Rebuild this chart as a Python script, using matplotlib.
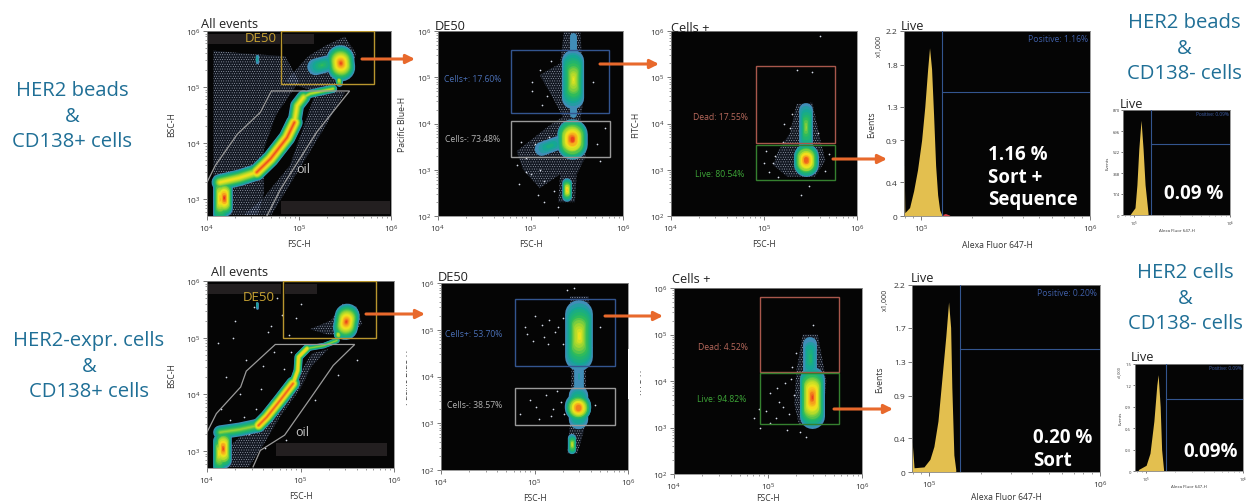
# Flow cytometry sort gates for HER2 beads and HER2-expressing cells.
# Density clouds are drawn as stacked ridges (log10 units).

import matplotlib
matplotlib.use("Agg")
import matplotlib.pyplot as plt
from matplotlib.colors import LinearSegmentedColormap
from matplotlib.patches import Polygon, Rectangle

plt.rcParams['font.family'] = ['Open Sans', 'DejaVu Sans']
plt.rcParams['mathtext.default'] = 'regular'
plt.rcParams['hatch.linewidth'] = 0.3

BLUE_TEXT = '#1f6f96'
ORANGE = '#e8692c'
GOLD = '#b8962e'
GATE_BLUE = '#33558f'
GATE_GRAY = '#9a9a9a'
GATE_RED = '#a8574c'
GATE_GREEN = '#35802f'
HIST = '#e3bf4f'

# density features: (x decades, y decades, width in points, peak level 0-1)
beads_all = [
    ([4.14, 4.14], [2.72, 3.3], 10, 0.75),
    ([4.18, 4.18], [2.85, 3.2], 12, 1.0),
    ([4.14, 4.35, 4.54], [3.3, 3.38, 3.48], 12, 0.62),
    ([4.54, 4.69, 4.87, 4.95], [3.48, 3.72, 4.1, 4.37], 12, 0.92),
    ([4.95, 4.98, 5.05], [4.37, 4.67, 4.82], 10, 0.62),
    ([5.05, 5.12, 5.37], [4.82, 4.88, 4.97], 6, 0.5),
    ([5.43, 5.43], [5.08, 5.14], 5, 0.62),
    ([5.18, 5.32], [5.36, 5.42], 12, 0.28),
    ([5.46, 5.45], [5.35, 5.5], 20, 0.95),
    ([4.54, 4.54], [5.44, 5.56], 2.5, 0.15),
]
beads_de50 = [
    ([5.46, 5.46], [5.9, 4.2], 5, 0.08),
    ([5.46, 5.46], [4.56, 5.35], 16, 0.58),
    ([5.45, 5.45], [3.55, 3.78], 22, 1.0),
    ([5.12, 5.3], [3.45, 3.58], 10, 0.2),
    ([5.39, 5.39], [2.42, 2.72], 7, 0.72),
]
beads_cells = [
    ([5.45, 5.45], [3.55, 4.3], 10, 0.42),
    ([5.45, 5.45], [3.12, 3.3], 18, 1.0),
]
cells_all = [
    ([4.13, 4.13], [2.72, 3.2], 9, 0.65),
    ([4.17, 4.17], [2.84, 3.25], 12, 0.95),
    ([4.14, 4.35, 4.55], [3.33, 3.38, 3.45], 10, 0.42),
    ([4.55, 4.64, 4.78, 4.92], [3.45, 3.6, 3.89, 4.19], 10, 0.9),
    ([4.92, 4.97, 4.98, 5.07], [4.19, 4.42, 4.66, 4.81], 6, 0.7),
    ([5.07, 5.25, 5.39], [4.81, 4.86, 4.95], 4, 0.42),
    ([5.4, 5.4], [5.04, 5.08], 6, 0.6),
    ([5.48, 5.5], [5.18, 5.38], 18, 0.95),
    ([4.54, 4.54], [5.52, 5.62], 2, 0.15),
]
cells_de50 = [
    ([5.48, 5.48], [3.7, 4.3], 7, 0.06),
    ([5.48, 5.48], [4.42, 5.33], 20, 0.62),
    ([5.47, 5.47], [3.1, 3.6], 14, 0.4),
    ([5.47, 5.47], [3.32, 3.36], 19, 1.0),
    ([5.4, 5.4], [2.42, 2.68], 6, 0.55),
]
cells_cells = [
    ([5.45, 5.45], [4.2, 4.8], 10, 0.25),
    ([5.47, 5.47], [3.25, 4.05], 18, 0.95),
]

# speckle regions: polygon vertices in decades
beads_all_haze = [
    [(4.07, 2.9), (4.07, 5.65), (4.4, 5.6), (4.85, 5.55), (5.0, 5.1), (4.75, 4.5),
     (4.62, 3.9), (4.62, 3.1), (4.55, 2.72), (4.2, 2.72)],
    [(4.85, 5.1), (5.1, 5.55), (5.3, 5.75), (5.5, 5.9), (5.62, 5.6), (5.55, 5.15), (5.2, 4.9)],
    [(4.9, 3.6), (4.6, 3.0), (4.4, 2.72), (4.7, 2.72), (5.25, 4.2), (5.5, 4.9), (5.2, 5.0)],
]
beads_de50_haze = [
    [(5.36, 5.98), (5.54, 5.98), (5.58, 4.6), (5.54, 4.1), (5.6, 3.3), (5.5, 2.9), (5.48, 2.3),
     (5.3, 2.3), (5.32, 2.9), (5.1, 2.6), (4.92, 3.0), (4.85, 3.4), (5.2, 3.95), (5.35, 4.15),
     (5.2, 4.7), (5.1, 5.05), (5.32, 5.3)],
]
beads_cells_haze = [
    [(5.35, 4.42), (5.52, 4.45), (5.6, 3.7), (5.66, 3.2), (5.55, 2.85), (5.25, 2.85), (5.1, 3.1),
     (5.15, 3.4), (5.28, 3.8)],
]
cells_all_haze = [
    [(4.45, 2.72), (4.6, 3.1), (4.78, 3.6), (5.0, 4.1), (5.12, 4.5), (5.3, 4.8), (5.12, 4.72),
     (5.0, 4.4), (4.85, 4.0), (4.6, 3.6), (4.25, 3.1), (4.2, 2.72)],
    [(5.1, 5.15), (5.32, 5.3), (5.45, 5.6), (5.6, 5.55), (5.66, 5.25), (5.55, 5.05), (5.3, 5.05)],
]
cells_de50_haze = [
    [(5.38, 5.72), (5.58, 5.72), (5.62, 4.6), (5.55, 4.2), (5.55, 3.0), (5.46, 2.35),
     (5.35, 2.35), (5.38, 3.0), (5.4, 4.4)],
]
cells_cells_haze = [
    [(5.37, 5.0), (5.53, 5.0), (5.62, 4.0), (5.58, 3.05), (5.33, 3.05), (5.28, 3.5), (5.3, 4.2)],
]

beads_de50_dots_x = [4.85, 4.9, 4.95, 5.0, 5.05, 5.1, 5.15, 5.2, 5.25, 4.88, 4.95, 5.02, 5.1, 5.18, 5.72, 5.75, 5.68, 5.8, 5.02, 5.12, 5.22, 5.08, 5.15, 5.3]
beads_de50_dots_y = [3.1, 3.6, 3.25, 2.9, 3.55, 3.0, 2.75, 3.7, 2.55, 2.7, 2.95, 4.9, 5.15, 4.6, 3.55, 3.2, 4.9, 3.9, 4.7, 4.4, 5.35, 2.45, 2.3, 2.2]
beads_cells_dots_x = [5.0, 5.05, 5.12, 5.2, 5.28, 5.3, 5.35, 5.52, 5.58, 5.66, 5.7, 5.02, 5.1, 5.15, 5.4, 5.48, 5.22, 5.6]
beads_cells_dots_y = [3.15, 2.95, 3.3, 3.6, 3.9, 4.2, 5.15, 5.12, 3.8, 2.98, 3.35, 3.4, 3.15, 2.85, 2.45, 2.65, 4.0, 5.9]
cells_all_dots_x = [4.15, 4.2, 4.3, 4.42, 4.5, 4.58, 4.65, 4.72, 4.8, 4.88, 4.25, 4.35, 4.6, 4.7, 4.82, 4.95, 4.12, 4.4, 4.52, 4.75, 4.9, 5.0, 4.28, 4.68, 4.45, 4.62, 4.85, 5.15, 5.4, 5.6]
cells_all_dots_y = [3.75, 4.3, 5.3, 4.6, 5.55, 4.1, 5.1, 4.75, 5.4, 5.05, 3.55, 4.0, 4.5, 3.9, 4.45, 5.35, 4.9, 3.6, 3.75, 5.7, 4.75, 5.6, 5.0, 5.2, 3.3, 3.05, 3.2, 3.9, 4.35, 4.6]
cells_de50_dots_x = [4.85, 4.9, 4.95, 5.0, 5.05, 5.1, 5.15, 5.2, 5.25, 5.3, 4.92, 5.02, 5.12, 5.22, 5.3, 5.08, 5.18, 5.28, 4.98, 5.14, 5.24, 5.32, 5.65, 5.7, 5.35, 5.42]
cells_de50_dots_y = [3.2, 5.05, 3.5, 5.3, 3.1, 4.85, 5.2, 3.3, 5.05, 4.7, 4.9, 3.35, 3.6, 4.95, 5.25, 5.1, 3.15, 3.45, 4.75, 4.7, 3.7, 3.2, 3.4, 5.05, 5.85, 5.9]
cells_cells_dots_x = [4.85, 4.9, 4.98, 5.02, 5.08, 5.12, 5.18, 5.22, 5.28, 5.02, 5.1, 5.16, 5.24, 4.92, 5.3, 5.26, 5.34, 5.2, 5.4, 5.48]
cells_cells_dots_y = [3.2, 3.4, 3.35, 3.75, 3.2, 3.55, 3.95, 3.3, 3.7, 3.1, 3.85, 3.45, 4.05, 3.0, 4.6, 4.3, 2.9, 2.95, 2.8, 5.2]

# gates: (x low, x high, y low, y high) in decades
beads_de50_gates = [(4.79, 5.85, 4.22, 5.6, GATE_BLUE), (4.79, 5.86, 3.28, 4.05, GATE_GRAY)]
beads_cells_gates = [(4.91, 5.76, 3.58, 5.24, GATE_RED), (4.91, 5.76, 2.78, 3.53, GATE_GREEN)]
cells_de50_gates = [(4.79, 5.86, 4.22, 5.65, GATE_BLUE), (4.79, 5.86, 2.97, 3.76, GATE_GRAY)]
cells_cells_gates = [(4.91, 5.76, 4.19, 5.81, GATE_RED), (4.91, 5.76, 3.08, 4.17, GATE_GREEN)]
beads_all_gates = [(4.80, 5.82, 5.05, 6.0, GOLD)]
cells_all_gates = [(4.81, 5.81, 5.0, 6.0, GOLD)]
beads_oil = [(4.0, 3.3), (4.09, 3.6), (4.33, 4.16), (4.58, 4.55), (4.7, 4.93), (5.55, 4.93),
             (5.19, 4.19), (4.8, 3.18), (4.65, 2.7)]
cells_oil = [(4.0, 3.33), (4.1, 3.66), (4.36, 4.13), (4.42, 4.41), (4.73, 4.88), (5.58, 4.88),
             (5.35, 4.51), (5.14, 4.01), (4.83, 3.28), (4.57, 3.01), (4.49, 2.71)]

# histograms: x in decades, y in events (x1,000 or plain)
hist1_x = [4.9, 4.901, 4.905, 4.933, 4.957, 4.98, 5.004, 5.023, 5.04, 5.051, 5.063, 5.075, 5.087, 5.099, 5.111, 5.122]
hist1_y = [0.6, 0.6, 0.04, 0.1, 0.3, 0.55, 0.9, 1.3, 1.75, 2.0, 1.75, 1.2, 0.6, 0.25, 0.07, 0.02]
hist1_red_x = [5.13, 5.145, 5.17]
hist1_red_y = [0.02, 0.03, 0.01]
hist2_x = [4.96, 5.01, 5.03, 5.05, 5.073, 5.094, 5.115, 5.146]
hist2_y = [5, 60, 250, 550, 785, 550, 250, 15]
hist3_x = [4.9, 4.901, 4.912, 4.97, 5.005, 5.028, 5.052, 5.075, 5.098, 5.114, 5.126, 5.133, 5.145, 5.156]
hist3_y = [0.35, 0.35, 0.05, 0.06, 0.15, 0.3, 0.6, 1.1, 1.6, 2.0, 1.7, 1.0, 0.2, 0.03]
hist4_x = [4.92, 5.0, 5.04, 5.08, 5.11, 5.124, 5.145, 5.16, 5.18]
hist4_y = [0.02, 0.08, 0.25, 0.7, 1.2, 1.35, 0.9, 0.3, 0.02]

hist1_ticks = [0, 0.4, 0.9, 1.3, 1.8, 2.2]
hist2_ticks = [0, 174, 348, 522, 696, 870]
hist3_ticks = [0, 0.4, 0.9, 1.3, 1.7, 2.2]
hist4_ticks = [0, 0.3, 0.6, 0.9, 1.2, 1.5]

W, H = 1254, 502
density = LinearSegmentedColormap.from_list(
    'flow', ['#4f86c0', '#14a59a', '#25b860', '#9fd630', '#f5e71c', '#f59a1c', '#e8231c'])

fig = plt.figure(figsize=(W / 100, H / 100), dpi=100, facecolor='white')


def make_axes(left, right, top, bottom):
    ax = fig.add_axes([left / W, 1 - bottom / H, (right - left) / W, (bottom - top) / H])
    ax.set_facecolor('#050505')
    for s in ax.spines.values():
        s.set_color('#8a8a8a')
        s.set_linewidth(0.6)
    ax.set_xscale('log')
    return ax


def style_ticks(ax, size=6):
    ax.tick_params(which='major', labelsize=size, length=3, width=0.5, color='#444444',
                   labelcolor='#333333', pad=1.5)
    ax.tick_params(which='minor', length=1.5, width=0.4, color='#555555', labelleft=False, labelbottom=False)


def draw_features(ax, features):
    steps = 20
    for k in range(steps):
        t = k / steps
        for xs, ys, width, peak in features:
            if t >= peak:
                continue
            f = 1 - t / peak
            px, py = xs, ys
            if len(xs) == 2:
                cx, cy = sum(xs) / 2, sum(ys) / 2
                px = [cx + (v - cx) * f for v in xs]
                py = [cy + (v - cy) * f for v in ys]
            # the colour runs from teal outward edge to the peak colour, skipping most of the blue
            ax.plot([10 ** v for v in px], [10 ** v for v in py], color=density(t ** 0.85 + 0.04),
                    lw=width * f, solid_capstyle='round', solid_joinstyle='round', zorder=3)


def density_panel(box, ymin, ylabel, haze, features, gates, poly=None, dots=None, xpad=4):
    ax = make_axes(*box)
    ax.set_yscale('log')
    ax.set_xlim(1e4, 1e6)
    ax.set_ylim(10 ** ymin, 1e6)
    for verts in haze:
        pts = [(10 ** x, 10 ** y) for x, y in verts]
        ax.add_patch(Polygon(pts, closed=True, facecolor=(0.30, 0.40, 0.60, 0.2),
                             edgecolor=(0.85, 0.88, 0.95, 0.75), hatch='.......', lw=0, zorder=1))
    if dots:
        ax.scatter([10 ** v for v in dots[0]], [10 ** v for v in dots[1]], s=1.5, color='#d8deea', lw=0, zorder=2)
    draw_features(ax, features)
    for x0, x1, y0, y1, col in gates:
        ax.add_patch(Rectangle((10 ** x0, 10 ** y0), 10 ** x1 - 10 ** x0, 10 ** y1 - 10 ** y0,
                               fill=False, edgecolor=col, lw=1.0, zorder=5))
    if poly:
        ax.add_patch(Polygon([(10 ** x, 10 ** y) for x, y in poly], closed=False, fill=False,
                             edgecolor='#9b9b9b', lw=0.9, zorder=4))
    ax.set_xlabel('FSC-H', fontsize=6.2, labelpad=xpad, color='#333333')
    ax.set_ylabel(ylabel, fontsize=6.2, labelpad=7, color='#333333')
    style_ticks(ax)
    return ax


def hist_panel(box, xmin, xs, ys, yticks, ymax, vline, hline, small=False, red=None, xpad=5):
    ax = make_axes(*box)
    ax.set_xlim(10 ** xmin, 1e6)
    ax.set_ylim(0, ymax)
    ax.fill_between([10 ** v for v in xs], ys, color=HIST, lw=0, zorder=2)
    if red:
        ax.fill_between([10 ** v for v in red[0]], red[1], color='#d8404a', lw=0, zorder=2)
    ax.axvline(10 ** vline, color=GATE_BLUE, lw=0.8, zorder=3)
    ax.plot([10 ** vline, 1e6], [hline, hline], color=GATE_BLUE, lw=0.8, zorder=3)
    ax.set_yticks(yticks)
    ax.set_yticklabels([str(v) for v in yticks])
    fs = 3.2 if small else 6.2
    ax.set_xlabel('Alexa Fluor 647-H', fontsize=fs, labelpad=0.5 if small else xpad, color='#333333')
    ax.set_ylabel('Events', fontsize=fs, labelpad=2 if small else 7, color='#333333')
    style_ticks(ax, 3.0 if small else 6)
    if small:
        ax.tick_params(which='major', length=1.5, pad=1)
        ax.tick_params(which='minor', length=0.8)
    return ax


# row 1
density_panel((207, 391, 32, 217), 2.7, 'BSC-H', beads_all_haze, beads_all, beads_all_gates, beads_oil)
density_panel((438, 623, 32, 217), 2, 'Pacific Blue-H', beads_de50_haze, beads_de50, beads_de50_gates,
              dots=(beads_de50_dots_x, beads_de50_dots_y))
density_panel((671, 857, 32, 217), 2, 'FITC-H', beads_cells_haze, beads_cells, beads_cells_gates,
              dots=(beads_cells_dots_x, beads_cells_dots_y))
hist_panel((904, 1090, 32, 217), 4.9, hist1_x, hist1_y, hist1_ticks, 2.2, 5.125, 1.47, red=(hist1_red_x, hist1_red_y))
hist_panel((1123, 1230, 111, 216), 4.885, hist2_x, hist2_y, hist2_ticks, 870, 5.18, 590, small=True)

# row 2
density_panel((207, 394, 282, 469), 2.7, 'BSC-H', cells_all_haze, cells_all, cells_all_gates, cells_oil,
              dots=(cells_all_dots_x, cells_all_dots_y))
density_panel((441, 628, 284, 471), 2, 'Pacific Blue-H', cells_de50_haze, cells_de50, cells_de50_gates,
              dots=(cells_de50_dots_x, cells_de50_dots_y))
density_panel((674, 862, 289, 475), 2, 'FITC-H', cells_cells_haze, cells_cells, cells_cells_gates,
              dots=(cells_cells_dots_x, cells_cells_dots_y), xpad=1)
hist_panel((912, 1100, 286, 473), 4.9, hist3_x, hist3_y, hist3_ticks, 2.2, 5.18, 1.45, xpad=1.5)
hist_panel((1134.5, 1243, 365, 472), 4.88, hist4_x, hist4_y, hist4_ticks, 1.5, 5.21, 1.01, small=True)

# everything placed by eye sits on one overlay in pixel coordinates
top = fig.add_axes([0, 0, 1, 1], zorder=10)
top.set_xlim(0, W)
top.set_ylim(H, 0)
top.axis('off')
top.patch.set_alpha(0)


def label(x, y, s, size, color='#222222', ha='left', weight='normal'):
    top.text(x, y, s, fontsize=size, color=color, ha=ha, va='center', fontweight=weight)


# dark masks over the first density plots
for x0, x1, y0, y1 in [(208, 280, 35, 45), (283, 314, 35, 45), (281, 390, 202, 215),
                       (208, 281, 285, 295), (285, 317, 285, 295), (276, 387, 444, 457)]:
    top.add_patch(Rectangle((x0, y0), x1 - x0, y1 - y0, facecolor='#231f20', lw=0))

# white covers that clip two axis labels in row 2
top.add_patch(Rectangle((396, 330), 10, 90, facecolor='white', lw=0))
top.add_patch(Rectangle((628, 350), 12, 50, facecolor='white', lw=0))

for x, y, s in [(201, 25, 'All events'), (435, 26, 'DE50'), (671, 28, 'Cells +'), (901, 27, 'Live'),
                (1120, 104, 'Live'), (211, 273, 'All events'), (438, 278, 'DE50'), (672, 280, 'Cells +'),
                (911, 279, 'Live'), (1131, 358, 'Live')]:
    label(x, y, s, 9.2, weight='medium')

for x, ys, lines in [(72, (91, 117, 142), ('HER2 beads', '&', 'CD138+ cells')),
                     (89, (341, 367, 392), ('HER2-expr. cells', '&', 'CD138+ cells')),
                     (1184, (23, 49, 74), ('HER2 beads', '&', 'CD138- cells')),
                     (1185, (273, 299, 324), ('HER2 cells', '&', 'CD138- cells'))]:
    for y, s in zip(ys, lines):
        label(x, y, s, 14.6, BLUE_TEXT, ha='center')

label(245, 39, 'DE50', 9.5, '#c7a233')
label(243, 298, 'DE50', 9.5, '#c7a233')
label(296, 170, 'oil', 9, '#c8c8c8')
label(295, 433, 'oil', 9, '#c8c8c8')

label(444, 80, 'Cells+: 17.60%', 6.2, '#4a6fb5')
label(445, 140, 'Cells-: 73.48%', 6.2, '#b5b5b5')
label(445, 335, 'Cells+: 53.70%', 6.2, '#4a6fb5')
label(447, 406, 'Cells-: 38.57%', 6.2, '#b5b5b5')
label(693, 118, 'Dead: 17.55%', 6.2, '#b8695c')
label(695, 175, 'Live: 80.54%', 6.2, '#3ea838')
label(698, 348, 'Dead: 4.52%', 6.2, '#b8695c')
label(697, 400, 'Live: 94.82%', 6.2, '#3ea838')

label(1088, 39, 'Positive: 1.16%', 6.2, '#3f5fa8', ha='right')
label(1097, 294, 'Positive: 0.20%', 6.2, '#3f5fa8', ha='right')
label(1229, 114, 'Positive: 0.09%', 3.4, '#3f5fa8', ha='right')
label(1242, 369, 'Positive: 0.09%', 3.4, '#3f5fa8', ha='right')

for x, y, s in [(988, 155, '1.16 %'), (988, 178, 'Sort +'), (988, 200, 'Sequence'),
                (1164, 194, '0.09 %'), (1033, 438, '0.20 %'), (1033, 461, 'Sort'), (1183, 452, '0.09%')]:
    label(x, y, s, 13.5, 'white', weight='bold')

top.text(879, 46, 'x1,000', fontsize=5.2, rotation=90, ha='center', va='center', color='#333333')
top.text(885, 300, 'x1,000', fontsize=5.2, rotation=90, ha='center', va='center', color='#333333')
top.text(1119, 372, 'x1,000', fontsize=2.8, rotation=90, ha='center', va='center', color='#333333')

for x0, x1, y in [(362, 415, 60), (600, 659, 65), (833, 887, 160),
                  (366, 425, 315), (605, 663, 317), (834, 893, 410)]:
    top.annotate('', xy=(x1, y), xytext=(x0, y),
                 arrowprops=dict(arrowstyle='-|>', color=ORANGE, lw=2.2, mutation_scale=13, shrinkA=0, shrinkB=0))

fig.savefig('out.png', dpi=100)
